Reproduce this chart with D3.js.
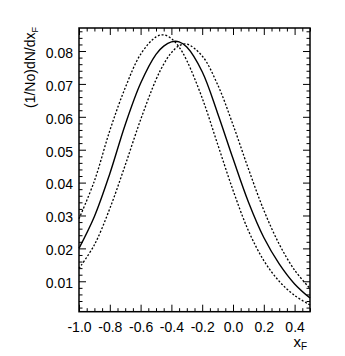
<!DOCTYPE html>
<html>
<head>
<meta charset="utf-8">
<script src="https://cdn.jsdelivr.net/npm/d3@7"></script>
<style>
  body { margin: 0; background: #fff; }
  svg { display: block; font-family: "Liberation Sans", Arial, Helvetica, sans-serif; }
</style>
</head>
<body>
<div id="chart"></div>
<script>
// values
var xF = [-1.0, -0.9, -0.8, -0.7, -0.6, -0.5, -0.45, -0.4, -0.35, -0.3, -0.2, -0.1, 0.0, 0.1, 0.2, 0.3, 0.4, 0.5];
var central = [0.0200, 0.0297, 0.0427, 0.0576, 0.0702, 0.0790, 0.0815, 0.0828, 0.0828, 0.0812, 0.0737, 0.0611, 0.0473, 0.0341, 0.0233, 0.0153, 0.0092, 0.0049];
var shiftedLeft = [0.0290, 0.0405, 0.0558, 0.0688, 0.0790, 0.0843, 0.0849, 0.0838, 0.0812, 0.0771, 0.0657, 0.0517, 0.0377, 0.0254, 0.0163, 0.0100, 0.0057, 0.0028];
var shiftedRight = [0.0139, 0.0211, 0.0321, 0.0453, 0.0591, 0.0713, 0.0760, 0.0795, 0.0816, 0.0821, 0.0785, 0.0698, 0.0576, 0.0442, 0.0316, 0.0213, 0.0134, 0.0078];

var xTicks = [-1.0, -0.8, -0.6, -0.4, -0.2, 0.0, 0.2, 0.4];
var yTicks = [0.01, 0.02, 0.03, 0.04, 0.05, 0.06, 0.07, 0.08];

var w = 345, h = 356;
var frameL = 79, frameR = 310, frameT = 28, frameB = 311.7;

var svg = d3.select("#chart").append("svg")
  .attr("width", w)
  .attr("height", h);

var x = d3.scaleLinear().domain([-1.0, 0.5]).range([frameL, frameR]);
var y = d3.scaleLinear().domain([0.00075, 0.0870]).range([frameB, frameT]);

var xMinor = d3.range(-1.0, 0.5001, 0.05).filter(function(v) {
  return Math.abs(Math.round(v * 5) - v * 5) > 1e-6;
});
var yMinor = d3.range(0.002, 0.0871, 0.002).filter(function(v) {
  return Math.abs(Math.round(v * 100) - v * 100) > 1e-6;
});

function styleAxis(g) {
  g.select(".domain").remove();
  g.selectAll("line").attr("stroke", "#000").attr("stroke-width", 1);
  g.selectAll("text").attr("fill", "#000").attr("font-size", 14)
    .attr("font-family", "'Liberation Sans', Arial, Helvetica, sans-serif");
}

// bottom
svg.append("g").attr("transform", "translate(0," + frameB + ")")
  .call(d3.axisBottom(x).tickValues(xTicks).tickSize(-7).tickPadding(10)
    .tickFormat(function(d) { return d.toFixed(1); }))
  .call(styleAxis);
svg.append("g").attr("transform", "translate(0," + frameB + ")")
  .call(d3.axisBottom(x).tickValues(xMinor).tickSize(-3.5).tickFormat(""))
  .call(styleAxis);
// top
svg.append("g").attr("transform", "translate(0," + frameT + ")")
  .call(d3.axisTop(x).tickValues(xTicks).tickSize(-7).tickFormat(""))
  .call(styleAxis);
svg.append("g").attr("transform", "translate(0," + frameT + ")")
  .call(d3.axisTop(x).tickValues(xMinor).tickSize(-3.5).tickFormat(""))
  .call(styleAxis);
// left
svg.append("g").attr("transform", "translate(" + frameL + ",0)")
  .call(d3.axisLeft(y).tickValues(yTicks).tickSize(-7).tickPadding(6)
    .tickFormat(function(d) { return d.toFixed(2); }))
  .call(styleAxis)
  .selectAll("text").attr("dy", "0.45em");
svg.append("g").attr("transform", "translate(" + frameL + ",0)")
  .call(d3.axisLeft(y).tickValues(yMinor).tickSize(-3.5).tickFormat(""))
  .call(styleAxis);
// right
svg.append("g").attr("transform", "translate(" + frameR + ",0)")
  .call(d3.axisRight(y).tickValues(yTicks).tickSize(-7).tickFormat(""))
  .call(styleAxis);
svg.append("g").attr("transform", "translate(" + frameR + ",0)")
  .call(d3.axisRight(y).tickValues(yMinor).tickSize(-3.5).tickFormat(""))
  .call(styleAxis);

// frame
svg.append("rect")
  .attr("x", frameL).attr("y", frameT)
  .attr("width", frameR - frameL).attr("height", frameB - frameT)
  .attr("fill", "none").attr("stroke", "#000").attr("stroke-width", 1.5);

var line = d3.line()
  .x(function(d) { return x(d[0]); })
  .y(function(d) { return y(d[1]); })
  .curve(d3.curveCatmullRom.alpha(0.5));

function pts(vals) {
  return xF.map(function(v, i) { return [v, vals[i]]; });
}

svg.append("path").datum(pts(shiftedLeft))
  .attr("d", line).attr("fill", "none").attr("stroke", "#000")
  .attr("stroke-width", 1.3).attr("stroke-dasharray", "2,1.8");
svg.append("path").datum(pts(shiftedRight))
  .attr("d", line).attr("fill", "none").attr("stroke", "#000")
  .attr("stroke-width", 1.3).attr("stroke-dasharray", "2,1.8");
svg.append("path").datum(pts(central))
  .attr("d", line).attr("fill", "none").attr("stroke", "#000")
  .attr("stroke-width", 1.4);

// axis titles
var xt = svg.append("text")
  .attr("x", 307).attr("y", 347)
  .attr("text-anchor", "end").attr("font-size", 15).attr("fill", "#000");
xt.append("tspan").text("x");
xt.append("tspan").attr("font-size", 10).attr("dy", 3).text("F");

var yt = svg.append("text")
  .attr("transform", "translate(35,27) rotate(-90)")
  .attr("text-anchor", "end").attr("font-size", 14).attr("fill", "#000");
yt.append("tspan").text("(1/No)dN/dx");
yt.append("tspan").attr("font-size", 9).attr("dy", 2.5).text("F");
</script>
</body>
</html>
